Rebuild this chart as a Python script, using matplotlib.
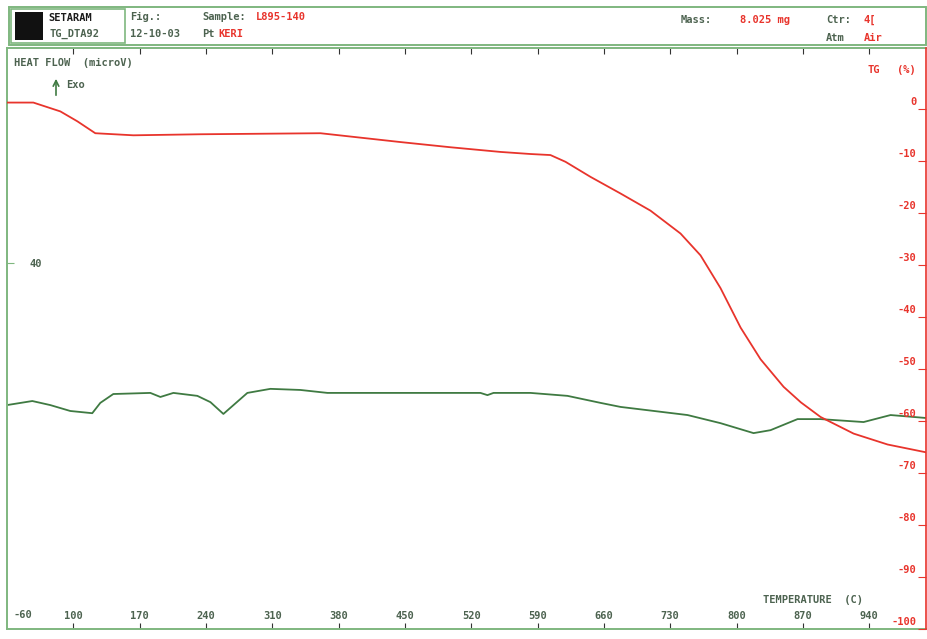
import matplotlib
matplotlib.use('Agg')
import matplotlib.pyplot as plt
from matplotlib.patches import Rectangle

W, H = 928, 639

# temperature (C) of the TG trace and its mass loss (%)
tg_temp = [30, 57.8, 86.3, 104.2, 123.2, 163.4, 234, 360.8, 445.3, 498.1, 550.9,
           582.5, 603.6, 619.5, 645.9, 677.6, 709.2, 740.9, 762.0, 783.1, 804.3,
           825.4, 849.7, 868.0, 888.7, 923.6, 959.5, 1000]
tg_val = [1.3, 1.3, -0.4, -2.3, -4.6, -5.0, -4.8, -4.6, -6.3, -7.3, -8.2,
          -8.6, -8.8, -10.1, -13.0, -16.2, -19.5, -23.9, -28.1, -34.4, -42.0,
          -48.1, -53.4, -56.4, -59.2, -62.4, -64.5, -66.0]

# temperature (C) of the heat flow trace and its value (microV)
hf_temp = [30, 56.7, 75.7, 96.8, 120, 128.5, 142.2, 181.3, 191.9, 205.6, 230.9,
           244.7, 258.4, 283.7, 308.0, 339.7, 368.2, 529.7, 537.1, 543.5, 582.5,
           621.6, 656.4, 677.6, 748.3, 783.1, 818.0, 835.9, 864.4, 888.7, 934.1,
           962.6, 1000]
hf_val = [1.5, 2.6, 1.5, -0.1, -0.7, 2.1, 4.5, 4.8, 3.7, 4.8, 4.0,
          2.3, -0.9, 4.8, 5.9, 5.6, 4.8, 4.8, 4.2, 4.8, 4.8,
          4.0, 2.1, 1.0, -1.2, -3.4, -6.1, -5.3, -2.3, -2.3, -3.1,
          -1.2, -2.0]

x_ticks = [100, 170, 240, 310, 380, 450, 520, 590, 660, 730, 800, 870, 940]
tg_ticks = [0, -10, -20, -30, -40, -50, -60, -70, -80, -90, -100]

RED = '#e8342c'
GREEN = '#3f7a42'
FRAME = '#7fb77f'
TXT = '#4d6350'
MONO = 'DejaVu Sans Mono'


def px(x, y):
    return x / W, 1 - y / H


fig = plt.figure(figsize=(W / 100, H / 100), dpi=100)
fig.patch.set_facecolor('white')

ax = fig.add_axes([7 / W, (H - 629) / H, 919 / W, 581 / H])
ax.plot(hf_temp, hf_val, color=GREEN, lw=1.3)
ax.set_xlim(30, 1000)
ax.set_ylim(-59.2, 98.3)
ax.set_xticks(x_ticks)
ax.set_xticklabels([str(t) for t in x_ticks], fontsize=7.5, family=MONO,
                   color=TXT, fontweight='bold')
ax.tick_params(axis='x', direction='in', length=4, pad=-13, color='#333333',
               top=True)
ax.set_yticks([40])
ax.set_yticklabels(['40'], fontsize=7.5, family=MONO, color=TXT, fontweight='bold')
ax.tick_params(axis='y', direction='in', length=5, pad=-25, color=FRAME)
for s in ['left', 'bottom', 'top']:
    ax.spines[s].set_color(FRAME)
    ax.spines[s].set_linewidth(1.4)
ax.spines['right'].set_visible(False)

ax2 = ax.twinx()
ax2.plot(tg_temp, tg_val, color=RED, lw=1.3)
ax2.set_ylim(-99.3, 11.8)
ax2.set_yticks(tg_ticks)
ax2.set_yticklabels([])
ax2.tick_params(axis='y', direction='in', length=6, color=RED)
ax2.spines['right'].set_color(RED)
ax2.spines['right'].set_linewidth(1.2)
for s in ['left', 'bottom', 'top']:
    ax2.spines[s].set_visible(False)
for v in tg_ticks:
    ax2.annotate(str(v), xy=(1, v), xycoords=('axes fraction', 'data'),
                 xytext=(-7, 5), textcoords='offset points', ha='right',
                 va='center', fontsize=7.5, family=MONO, color=RED,
                 fontweight='bold')

# axis captions
fig.text(*px(14, 63), 'HEAT FLOW  (microV)', fontsize=7.5, family=MONO,
         color=TXT, fontweight='bold', va='center')
ax.annotate('', xy=px(56, 76), xytext=px(56, 98), xycoords='figure fraction',
            textcoords='figure fraction',
            arrowprops=dict(arrowstyle='->', color=GREEN, lw=1.2))
fig.text(*px(66, 85), 'Exo', fontsize=7.5, family=MONO, color=TXT,
         fontweight='bold', va='center')
fig.text(*px(14, 615), '-60', fontsize=7.5, family=MONO, color=TXT,
         fontweight='bold', va='center')
fig.text(*px(868, 70), 'TG', fontsize=7.5, family=MONO, color=RED,
         fontweight='bold', va='center')
fig.text(*px(897, 70), '(%)', fontsize=7.5, family=MONO, color=RED,
         fontweight='bold', va='center')
fig.text(*px(763, 600), 'TEMPERATURE  (C)', fontsize=7.5, family=MONO,
         color=TXT, fontweight='bold', va='center')

# header block
fig.patches.append(Rectangle(px(9, 45), 917 / W, 38 / H, transform=fig.transFigure,
                             fill=False, edgecolor=FRAME, lw=1.4))
fig.patches.append(Rectangle(px(11, 43), 114 / W, 34 / H, transform=fig.transFigure,
                             fill=False, edgecolor=FRAME, lw=1.2))
fig.patches.append(Rectangle(px(15, 40), 28 / W, 28 / H, transform=fig.transFigure,
                             facecolor='#111111', edgecolor='none'))
hdr = dict(fontsize=7.5, family=MONO, fontweight='bold', va='center')
fig.text(*px(48, 18), 'SETARAM', color='#1a1a1a', **hdr)
fig.text(*px(50, 34), 'TG_DTA92', color=TXT, **hdr)
fig.text(*px(130, 17), 'Fig.:', color=TXT, **hdr)
fig.text(*px(130, 34), '12-10-03', color=TXT, **hdr)
fig.text(*px(202, 17), 'Sample:', color=TXT, **hdr)
fig.text(*px(256, 17), 'L895-140', color=RED, **hdr)
fig.text(*px(202, 34), 'Pt', color=TXT, **hdr)
fig.text(*px(218, 34), 'KERI', color=RED, **hdr)
fig.text(*px(681, 20), 'Mass:', color=TXT, **hdr)
fig.text(*px(740, 20), '8.025 mg', color=RED, **hdr)
fig.text(*px(826, 20), 'Ctr:', color=TXT, **hdr)
fig.text(*px(864, 20), '4[', color=RED, **hdr)
fig.text(*px(826, 38), 'Atm', color=TXT, **hdr)
fig.text(*px(864, 38), 'Air', color=RED, **hdr)

fig.savefig('out.png', dpi=100)
